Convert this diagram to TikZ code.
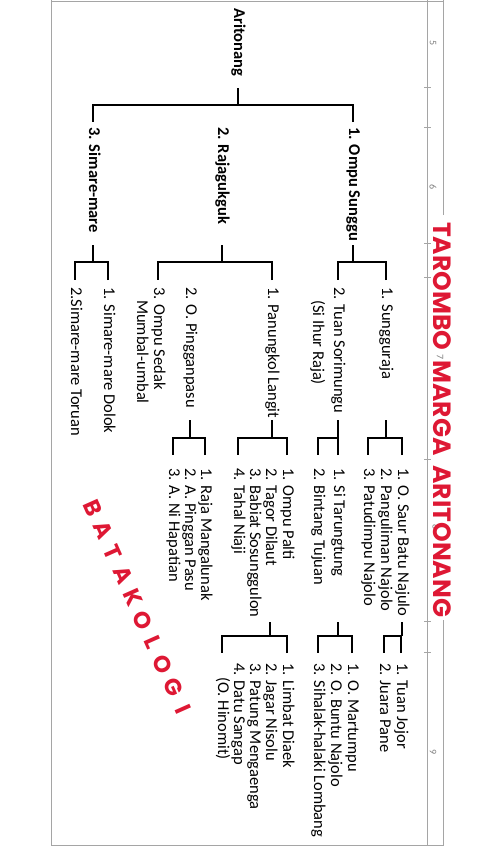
\documentclass[tikz,border=0pt]{standalone}
\usepackage{fontspec}
\newfontfamily\treefont{Carlito}
\newfontfamily\titlefont{Poppins}
\definecolor{titlered}{RGB}{222,24,52}
\definecolor{rulegray}{RGB}{165,165,165}

\begin{document}
\begin{tikzpicture}[x=1pt, y=-1pt,
  item/.style={rotate=-90, anchor=west, inner sep=0pt, text height=11pt, text depth=3pt, font=\treefont\fontsize{16.5}{17}\selectfont},
  head/.style={item, font=\treefont\bfseries\fontsize{16.5}{17}\selectfont},
  link/.style={line width=1.4pt},
  rule/.style={rulegray, line width=0.6pt},
  ruler/.style={rotate=-90, inner sep=0pt, text=gray, font=\treefont\fontsize{10}{10}\selectfont},
  wm/.style={rotate=-66, inner sep=0pt, text=titlered, font=\titlefont\bfseries\fontsize{23}{23}\selectfont}]
  \useasboundingbox (0,0) rectangle (480,862);

  % page frame and ruler
  \draw[rule] (51,1) -- (443,1);
  \draw[rule] (51,0) -- (51,845) -- (443,845) -- (443,620);
  \draw[rule] (443,215) -- (443,0);
  \draw[rule] (427,0) -- (427,845);
  \foreach \t in {87,127,243,277,459,621,652}
    \draw[rule] (424,\t) -- (431,\t);
  \foreach \n/\t in {5/43,6/187,9/752}
    \node[ruler] (r\n) at (433,\t) {\n};
  \node[ruler] (r7) at (440,357) {7};
  \node[ruler] (r8) at (436,527) {8};

  % title
  \node[rotate=-90, anchor=west, inner sep=0pt, text=titlered, font=\titlefont\bfseries\fontsize{25}{25}\selectfont] (title) at (442,222) {TAROMBO\hspace{0.4em}MARGA\hspace{0.4em}ARITONANG};

  % bracket levels
  \coordinate (s0) at (0,88);  \coordinate (b0) at (0,105); \coordinate (d0) at (0,122);
  \coordinate (s1) at (0,245); \coordinate (b1) at (0,262); \coordinate (d1) at (0,280);
  \coordinate (s2) at (0,420); \coordinate (b2) at (0,438); \coordinate (d2) at (0,455);
  \coordinate (s3) at (0,622); \coordinate (b3) at (0,636); \coordinate (d3) at (0,653);

  % root and sons
  \node[head] (root) at (238,8) {Aritonang};
  \node[head] (ompu) at (353,127) {1. Ompu Sunggu};
  \node[head] (raja) at (222,127) {2. Rajagukguk};
  \node[head] (sima) at (93,127) {3. Simare-mare};

  % grandsons
  \node[item] (sung) at (386,287) {1. Sungguraja};
  \node[item] (sori) at (338,287) {2. Tuan Sorimungu};
  \node[item] (ihur) at (317,300) {(Si Ihur Raja)};
  \node[item] (panu) at (272,287) {1. Panungkol Langit};
  \node[item] (ping) at (190,287) {2. O. Pingganpasu};
  \node[item] (seda) at (158,287) {3. Ompu Sedak};
  \node[item] (mumb) at (141,300) {Mumbal-umbal};
  \node[item] (sdol) at (108,287) {1. Simare-mare Dolok};
  \node[item] (stor) at (75,287) {2.Simare-mare Toruan};

  % third generation
  \node[item] (saur) at (402,468) {1. O. Saur Batu Najulo};
  \node[item] (pang) at (385,468) {2. Panguliman Najolo};
  \node[item] (patu) at (368,468) {3. Patudimpu Najolo};
  \node[item] (sita) at (338,468) {1. Si Tarungtung};
  \node[item] (bint) at (318,468) {2. Bintang Tujuan};
  \node[item] (palt) at (287,468) {1. Ompu Palti};
  \node[item] (tago) at (270,468) {2. Tagor Dilaut};
  \node[item] (babi) at (254,468) {3. Babiat Sosunggulon};
  \node[item] (taha) at (238,468) {4. Tahal Niaji};
  \node[item] (raml) at (205,468) {1. Raja Mangalunak};
  \node[item] (apin) at (189,468) {2. A. Pinggan Pasu};
  \node[item] (hapa) at (173,468) {3. A. Ni Hapatian};

  % fourth generation
  \node[item] (jojo) at (401,663) {1. Tuan Jojor};
  \node[item] (pane) at (384,663) {2. Juara Pane};
  \node[item] (mart) at (352,663) {1. O. Martumpu};
  \node[item] (bunt) at (335,663) {2. O. Buntu Najolo};
  \node[item] (loba) at (318,663) {3. Sihalak-halaki Lombang};
  \node[item] (limb) at (287,663) {1. Limbat Diaek};
  \node[item] (jaga) at (270,663) {2. Jagar Nisolu};
  \node[item] (patg) at (254,663) {3. Patung Mengaenga};
  \node[item] (datu) at (238,663) {4. Datu Sangap};
  \node[item] (hino) at (222,677) {(O. Hinomit)};

  % brackets
  \draw[link] (root |- s0) -- (root |- b0) (ompu |- d0) |- (sima |- b0) -- (sima |- d0);

  \draw[link] (ompu |- s1) -- (ompu |- b1) (sung |- d1) |- (sori |- b1) -- (sori |- d1);
  \draw[link] (raja |- s1) -- (raja |- b1) (panu |- d1) |- (seda |- b1) -- (seda |- d1);
  \draw[link] (sima |- s1) -- (sima |- b1) (sdol |- d1) |- (stor |- b1) -- (stor |- d1);

  \draw[link] (sung |- s2) -- (sung |- b2) (saur |- d2) |- (patu |- b2) -- (patu |- d2);
  \draw[link] (sori |- s2) -- (sori |- b2) (sita |- d2) |- (bint |- b2) -- (bint |- d2);
  \draw[link] (panu |- s2) -- (panu |- b2) (palt |- d2) |- (taha |- b2) -- (taha |- d2);
  \draw[link] (ping |- s2) -- (ping |- b2) (raml |- d2) |- (hapa |- b2) -- (hapa |- d2);

  \draw[link] (saur |- s3) -- (saur |- b3) (jojo |- d3) |- (pane |- b3) -- (pane |- d3);
  \draw[link] (sita |- s3) -- (sita |- b3) (mart |- d3) |- (loba |- b3) -- (loba |- d3);
  \draw[link] (tago |- s3) -- (tago |- b3) (limb |- d3) |- (hino |- b3) -- (hino |- d3);

  % watermark
  \foreach \ch [count=\i from 0] in {B,A,T,A,K,O,L,O,G,I}
    \node[wm] (bk\i) at ({93+10*\i},{508+22.4*\i}) {\ch};
\end{tikzpicture}
\end{document}
